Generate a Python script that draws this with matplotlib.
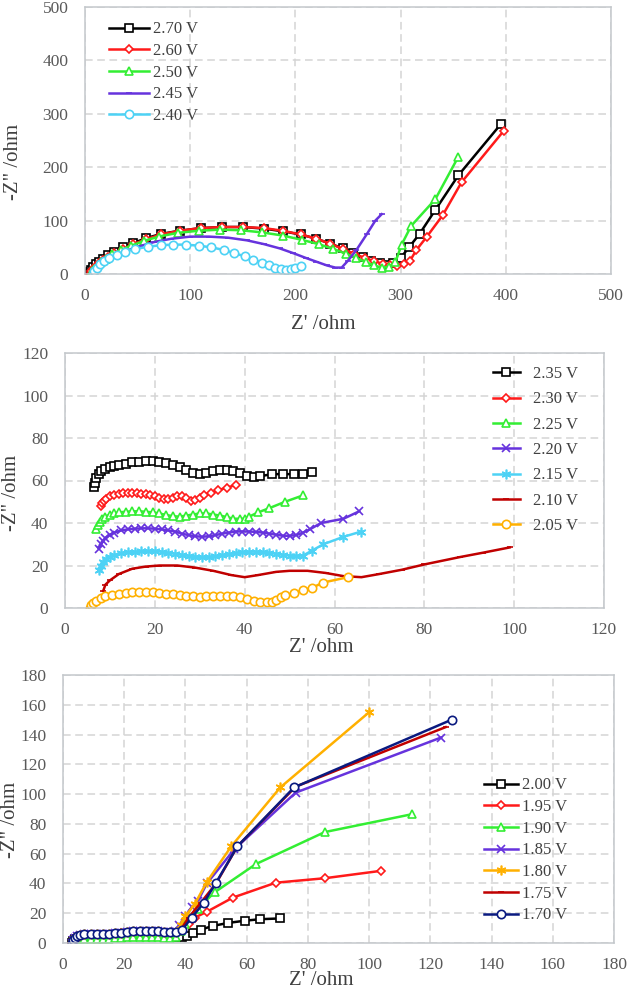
import matplotlib.pyplot as plt

plt.rcParams['font.family'] = ['Liberation Serif', 'DejaVu Serif']

# ---- panel 1 : 2.70 V .. 2.40 V ----
p1_labels = ['2.70 V', '2.60 V', '2.50 V', '2.45 V', '2.40 V']
v270_x = [4, 5, 6, 8, 10, 13, 17, 22, 28, 36, 46, 58, 72, 90, 110, 130, 150, 170, 188, 205,
          220, 233, 245, 255, 264, 272, 280, 287, 293, 300, 308, 318, 333, 355, 395]
v270_y = [0, 4, 8, 13, 18, 23, 29, 35, 42, 50, 58, 67, 75, 81, 86, 88, 88, 85, 80, 74,
          66, 57, 48, 40, 32, 25, 20, 16, 20, 30, 50, 75, 120, 185, 280]
v260_x = [5, 6, 8, 10, 13, 17, 22, 28, 36, 46, 58, 72, 90, 110, 130, 150, 170, 188, 205, 220,
          233, 245, 256, 266, 275, 283, 290, 297, 303, 309, 315, 325, 340, 358, 398]
v260_y = [0, 5, 10, 15, 20, 26, 32, 39, 47, 56, 65, 74, 81, 86, 88, 88, 86, 81, 74, 66,
          57, 47, 38, 30, 24, 19, 16, 15, 18, 25, 45, 70, 110, 172, 268]
v250_x = [6, 7, 9, 12, 15, 20, 26, 34, 44, 56, 70, 88, 108, 128, 148, 168, 188, 206, 222, 236,
          248, 258, 267, 275, 282, 289, 295, 301, 310, 333, 355]
v250_y = [0, 5, 10, 16, 22, 29, 37, 45, 53, 62, 70, 77, 81, 83, 82, 78, 72, 64, 56, 47,
          38, 30, 22, 16, 12, 14, 22, 55, 90, 140, 220]
v245_x = [7, 9, 12, 16, 22, 30, 40, 52, 66, 82, 100, 118, 136, 154, 170, 185, 198, 210, 220, 230,
          238, 244, 250, 258, 268, 276, 282]
v245_y = [0, 6, 13, 20, 28, 36, 44, 52, 60, 66, 70, 70, 68, 63, 56, 48, 39, 30, 23, 16,
          12, 12, 25, 45, 75, 100, 112]
v240_x = [8, 9, 11, 14, 18, 23, 30, 38, 48, 60, 72, 84, 96, 108, 120, 132, 142, 152, 160, 168,
          175, 181, 186, 191, 196, 200, 205]
v240_y = [0, 6, 12, 18, 24, 30, 36, 42, 47, 51, 54, 55, 55, 53, 50, 45, 39, 33, 27, 21,
          16, 12, 9, 8, 9, 11, 15]

# ---- panel 2 : 2.35 V .. 2.05 V ----
p2_labels = ['2.35 V', '2.30 V', '2.25 V', '2.20 V', '2.15 V', '2.10 V', '2.05 V']
v235_x = [6.5, 6.7, 7, 7.5, 8, 9, 10, 11, 12, 13.5, 15, 16.5, 18, 19.5, 21, 22.5, 24, 25.5,
          27, 28.5, 30, 31.5, 33, 34.5, 36, 37.5, 39, 40.5, 42, 43.5, 46, 48.5, 51, 53, 55]
v235_y = [57, 59, 61, 63, 64.5, 65.5, 66.5, 67, 67.5, 68, 68.5, 68.8, 69, 69, 68.8, 68.3, 67.5, 66.5,
          65, 63.5, 63, 63.5, 64.5, 65, 65, 64.5, 63.5, 62, 61.5, 62, 63, 63, 63, 63, 64]
v230_x = [8, 8.3, 8.7, 9.2, 10, 11, 12, 13, 14, 15, 16, 17, 18, 19, 20, 21, 22, 23, 24, 25,
          26, 27, 28, 29, 30, 31, 32.5, 34, 36, 38]
v230_y = [48, 49.5, 50.5, 51.5, 52.5, 53, 53.5, 54, 54, 54, 54, 53.8, 53.5, 53, 52.5, 52, 51.5, 51.5, 52, 52.5,
          52.5, 52, 50.5, 51, 52, 53, 54, 55.5, 56.5, 58]
v225_x = [7, 7.3, 7.7, 8.2, 9, 10, 11, 12, 13.5, 15, 16.5, 18, 19.5, 21, 22.5, 24, 25.5, 27, 28.5, 30,
          31.5, 33, 34.5, 36, 37.5, 39, 40, 41, 43, 45.5, 49, 53]
v225_y = [37, 39, 40.5, 42, 43, 44, 44.5, 45, 45.3, 45.5, 45.5, 45.3, 45, 44.5, 43.8, 43.2, 43, 43.5, 44, 44.5,
          44.5, 44, 43.5, 42.8, 42, 42, 42, 43, 45, 47, 50, 53]
v220_x = [7.5, 8, 8.5, 9, 10, 11, 12.5, 14, 15.5, 17, 18.5, 20, 21.5, 23, 24.5, 26, 27.5, 29, 30.5, 32,
          33.5, 35, 36.5, 38, 39.5, 41, 42.5, 44, 45.5, 47, 48.5, 50, 51.5, 53, 54.5, 57, 62, 65.5]
v220_y = [28, 30, 31.5, 33, 34.5, 35.5, 36.5, 37, 37.3, 37.5, 37.5, 37.3, 37, 36.5, 36, 35, 34.3, 33.8, 33.5, 33.8,
          34.3, 35, 35.5, 36, 36, 36, 35.8, 35.5, 35, 34.5, 34, 34, 34.3, 35.5, 37, 40, 42, 45.5]
v215_x = [7.5, 8, 8.5, 9.2, 10, 11, 12.5, 14, 15.5, 17, 18.5, 20, 21.5, 23, 24.5, 26, 27.5, 29, 30.5, 32,
          33.5, 35, 36.5, 38, 39.5, 41, 42.5, 44, 45.5, 47, 48.5, 50, 51.5, 53, 55, 57.5, 62, 66]
v215_y = [18, 20, 21.5, 23, 24, 25, 25.8, 26.3, 26.5, 26.7, 26.8, 26.8, 26.5, 26, 25.5, 25, 24.5, 24.2, 24, 24,
          24.3, 24.8, 25.3, 25.8, 26.3, 26.5, 26.5, 26.3, 26, 25.5, 25, 24.7, 24.5, 24.7, 27, 30, 33.5, 36]
v210_x = [8.5, 9, 10, 12, 15, 18, 21, 25, 29, 33, 37, 40, 43, 47, 50, 54, 58, 62, 66, 70,
          75, 80, 88, 93, 99]
v210_y = [8, 11, 13, 16, 18.5, 19.5, 20, 20, 19, 17.5, 15.5, 14.5, 15.5, 17, 17.5, 17.5, 16.5, 15, 14.5, 16,
          18, 20.5, 24, 26, 28.5]
v205_x = [5.5, 5.8, 6.2, 7, 8, 9, 10.5, 12, 13.5, 15, 16.5, 18, 19.5, 21, 22.5, 24, 25.5, 27, 28.5, 30,
          31.5, 33, 34.5, 36, 37.5, 39, 40.5, 42, 43.5, 45, 46, 47, 48, 49, 51, 53, 55, 57.5, 63]
v205_y = [0, 1.5, 2.5, 3.5, 4.5, 5.5, 6.2, 6.8, 7.2, 7.5, 7.6, 7.6, 7.5, 7.2, 6.8, 6.4, 6, 5.7, 5.5, 5.4,
          5.5, 5.6, 5.7, 5.7, 5.5, 5, 4.3, 3.5, 3, 2.7, 3, 4, 5, 6, 7, 8.5, 9.5, 12, 14.5]

# ---- panel 3 : 2.00 V .. 1.70 V ----
p3_labels = ['2.00 V', '1.95 V', '1.90 V', '1.85 V', '1.80 V', '1.75 V', '1.70 V']
v200_x = [3, 3.3, 3.8, 4.5, 5.5, 7, 9, 11, 13, 15, 17, 19, 21, 23, 25, 27, 29, 31, 33, 35,
          37, 39, 40.5, 42.5, 45, 49, 54, 59.5, 64.5, 71]
v200_y = [0, 1.5, 2.5, 3, 3.3, 3.5, 3.5, 3.5, 3.5, 3.7, 4, 4.3, 4.5, 4.6, 4.7, 4.7, 4.7, 4.6, 4.5, 4.3,
          4, 4, 4.5, 6.5, 9, 11.5, 13.5, 15, 16, 16.5]
v195_x = [3, 3.3, 3.8, 4.5, 5.5, 7, 9, 11, 13, 15, 17, 19, 21, 23, 25, 27, 29, 31, 33, 35,
          37, 39, 41, 43, 47, 55.5, 69.5, 85.5, 104]
v195_y = [0, 2, 3.5, 4.5, 5, 5.3, 5.3, 5.2, 5.2, 5.5, 6, 6.5, 6.8, 7, 7, 7, 7, 6.8, 6.5, 6.2,
          6, 8, 13, 17, 21, 30.5, 40.5, 43.5, 48.5]
v190_x = [3, 3.3, 3.8, 4.5, 5.5, 7, 9, 11, 13, 15, 17, 19, 21, 23, 25, 27, 29, 31, 33, 35,
          37, 38.5, 40, 41.5, 44, 49.5, 63, 85.5, 114]
v190_y = [0, 1, 2, 2.5, 3, 3, 3, 2.8, 2.8, 3, 3.3, 3.6, 3.8, 4, 4, 4, 4, 3.8, 3.6, 3.5,
          4, 8, 13, 17, 23, 34, 53, 74.5, 86.5]
v185_x = [3, 3.3, 3.8, 4.5, 5.5, 7, 9, 11, 13, 15, 17, 19, 21, 23, 25, 27, 29, 31, 33, 35,
          36.5, 38, 40, 42, 44, 47, 56, 76, 123.5]
v185_y = [0, 2, 3.5, 4.5, 5.5, 6, 6, 5.8, 5.8, 6, 6.5, 7, 7.5, 7.8, 8, 8, 8, 7.8, 7.5, 7.5,
          8, 12, 18, 24, 28, 40, 63, 101, 138]
v180_x = [3, 3.3, 3.8, 4.5, 5.5, 7, 9, 11, 13, 15, 17, 19, 21, 23, 25, 27, 29, 31, 33, 35,
          37, 38.5, 40, 43, 47, 55, 71, 100]
v180_y = [0, 2, 3.5, 4.5, 5.5, 6, 6, 5.8, 5.8, 6, 6.5, 7, 7.5, 7.8, 8, 8, 8, 7.8, 7.5, 7.3,
          7.5, 12, 18, 26, 41, 65, 104.5, 155]
v175_x = [3, 3.3, 3.8, 4.5, 5.5, 7, 9, 11, 13, 15, 17, 19, 21, 23, 25, 27, 29, 31, 33, 35,
          37, 38.5, 41, 45, 50, 57, 76, 125]
v175_y = [0, 2, 3.5, 4.5, 5.5, 6, 6, 5.8, 5.8, 6, 6.5, 7, 7.5, 7.8, 8, 8, 8, 7.8, 7.5, 7.3,
          7.5, 9, 17, 27, 40, 65, 105, 145]
v170_x = [3, 3.3, 3.8, 4.5, 5.5, 7, 9, 11, 13, 15, 17, 19, 21, 23, 25, 27, 29, 31, 33, 35,
          37, 39, 42, 46, 50, 57, 75.5, 127]
v170_y = [0, 2, 3.5, 4.5, 5.5, 6, 6, 5.8, 5.8, 6, 6.5, 7, 7.5, 7.8, 8, 8, 8, 7.8, 7.5, 7.3,
          7.5, 9, 17, 27, 40.5, 65, 104.5, 150]

BLACK, RED, GREEN = '#000000', '#ff1a1a', '#33ee33'
PURPLE, CYAN, DRED = '#6633dd', '#4dd2f5', '#c00000'
ORANGE, NAVY = '#ffb000', '#0a1a80'
ASTER = (6, 2, 0)

fig = plt.figure(figsize=(6.3, 9.92), dpi=100)
W, H = 630, 992


def make_axes(l, t, r, b):
    return fig.add_axes([l / W, 1 - b / H, (r - l) / W, (b - t) / H])


def style(ax, lim, step, ylab, xlab):
    ax.set_xlim(0, lim[0])
    ax.set_ylim(0, lim[1])
    ax.set_xticks(range(0, lim[0] + 1, step[0]))
    ax.set_yticks(range(0, lim[1] + 1, step[1]))
    ax.grid(True, color='#d4d4d4', linestyle=(0, (5, 3)), linewidth=1.1)
    ax.set_axisbelow(True)
    for s in ax.spines.values():
        s.set_color('#c4c8cc')
        s.set_linewidth(1.1)
    ax.tick_params(length=0, labelsize=12.5, labelcolor='#595959')
    ax.tick_params(axis='y', pad=12)
    ax.tick_params(axis='x', pad=10)
    ax.set_xlabel("Z' /ohm", fontsize=15, color='#404040')
    ax.set_ylabel('-Z" /ohm', fontsize=15, color='#404040')
    ax.yaxis.set_label_coords(*ylab)
    ax.xaxis.set_label_coords(*xlab)


def draw(ax, x, y, color, marker, label, ms=5.5):
    ax.plot(x, y, color=color, lw=1.8, marker=marker, ms=ms, mfc='white',
            mec=color, mew=1.2, label=label)


# panel 1
ax1 = make_axes(85, 7, 611, 274)
draw(ax1, v270_x, v270_y, BLACK, 's', p1_labels[0])
draw(ax1, v260_x, v260_y, RED, 'D', p1_labels[1], ms=4.5)
draw(ax1, v250_x, v250_y, GREEN, '^', p1_labels[2])
draw(ax1, v245_x, v245_y, PURPLE, '_', p1_labels[3], ms=5)
draw(ax1, v240_x, v240_y, CYAN, 'o', p1_labels[4], ms=6)
style(ax1, (500, 500), (100, 100), (-0.118, 0.42), (0.453, -0.154))
ax1.legend(loc='upper left', bbox_to_anchor=(0.046, 0.946), frameon=False, fontsize=12,
           handlelength=2.4, handletextpad=0.2, labelspacing=0.34, borderpad=0,
           borderaxespad=0, labelcolor='#404040')

# panel 2
ax2 = make_axes(65, 353, 604, 608)
draw(ax2, v235_x, v235_y, BLACK, 's', p2_labels[0])
draw(ax2, v230_x, v230_y, RED, 'D', p2_labels[1], ms=4.5)
draw(ax2, v225_x, v225_y, GREEN, '^', p2_labels[2])
draw(ax2, v220_x, v220_y, PURPLE, 'x', p2_labels[3], ms=6)
draw(ax2, v215_x, v215_y, CYAN, ASTER, p2_labels[4], ms=7)
draw(ax2, v210_x, v210_y, DRED, '_', p2_labels[5], ms=5)
draw(ax2, v205_x, v205_y, ORANGE, 'o', p2_labels[6], ms=6)
style(ax2, (120, 120), (20, 20), (-0.082, 0.45), (0.475, -0.118))
ax2.legend(loc='upper left', bbox_to_anchor=(0.794, 0.949), frameon=False, fontsize=12,
           handlelength=1.6, handletextpad=0.8, labelspacing=0.56, borderpad=0,
           borderaxespad=0, labelcolor='#404040')

# panel 3
ax3 = make_axes(63, 675, 614, 943)
draw(ax3, v200_x, v200_y, BLACK, 's', p3_labels[0])
draw(ax3, v195_x, v195_y, RED, 'D', p3_labels[1], ms=4.5)
draw(ax3, v190_x, v190_y, GREEN, '^', p3_labels[2])
draw(ax3, v185_x, v185_y, PURPLE, 'x', p3_labels[3], ms=6)
draw(ax3, v180_x, v180_y, ORANGE, ASTER, p3_labels[4], ms=7)
draw(ax3, v175_x, v175_y, DRED, '_', p3_labels[5], ms=5)
draw(ax3, v170_x, v170_y, NAVY, 'o', p3_labels[6], ms=6)
style(ax3, (180, 180), (20, 20), (-0.078, 0.46), (0.468, -0.105))
ax3.legend(loc='upper left', bbox_to_anchor=(0.764, 0.618), frameon=False, fontsize=12,
           handlelength=2.04, handletextpad=0.25, labelspacing=0.34, borderpad=0,
           borderaxespad=0, labelcolor='#404040')

fig.savefig('out.png', dpi=100)
